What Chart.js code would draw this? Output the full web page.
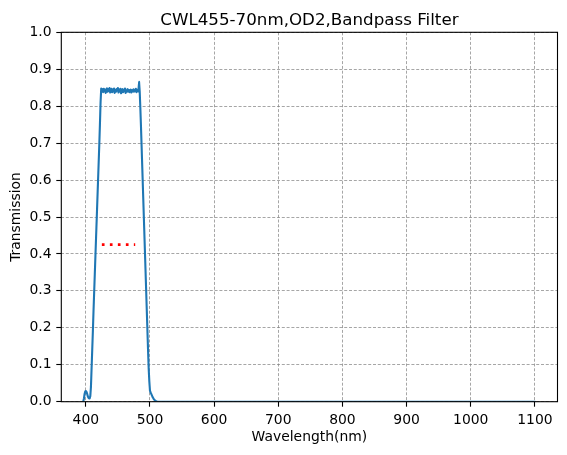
<!DOCTYPE html>
<html>
<head>
<meta charset="utf-8">
<script src="https://cdn.jsdelivr.net/npm/chart.js@4.4.1/dist/chart.umd.min.js"></script>
<style>
  html, body { margin: 0; padding: 0; background: #ffffff; }
  #wrap { width: 567px; height: 455px; }
</style>
</head>
<body>
<div id="wrap"><canvas id="filterChart" width="567" height="455"></canvas></div>
<script>
// measured transmission curve (wavelength in nm)
const wavelengths = [
  396, 397, 398, 399, 400, 401, 402, 403, 404, 405,
  406, 407, 408, 409, 410, 411, 412, 413, 414, 415,
  416, 417, 418, 419, 420, 421, 422, 423, 424, 425,
  426, 427, 428, 429, 430, 431, 432, 433, 434, 435,
  436, 437, 438, 439, 440, 441, 442, 443, 444, 445,
  446, 447, 448, 449, 450, 451, 452, 453, 454, 455,
  456, 457, 458, 459, 460, 461, 462, 463, 464, 465,
  466, 467, 468, 469, 470, 471, 472, 473, 474, 475,
  476, 477, 478, 479, 480, 481, 482, 483, 484, 485,
  486, 487, 488, 489, 490, 491, 492, 493, 494, 495,
  496, 497, 498, 499, 500, 501, 502, 503, 504, 505,
  506, 507, 508, 509, 510, 511, 520, 600, 700, 800,
  900, 1000, 1100
];
const transmission = [
  0.000, 0.008, 0.020, 0.027, 0.029, 0.027, 0.022, 0.015, 0.011, 0.009,
  0.009, 0.015, 0.040, 0.090, 0.140, 0.190, 0.245, 0.295, 0.345, 0.395,
  0.445, 0.495, 0.545, 0.595, 0.645, 0.695, 0.750, 0.810, 0.848, 0.842,
  0.846, 0.838, 0.847, 0.840, 0.845, 0.836, 0.844, 0.848, 0.839, 0.846,
  0.841, 0.849, 0.837, 0.843, 0.847, 0.838, 0.845, 0.840, 0.848, 0.836,
  0.844, 0.839, 0.846, 0.842, 0.849, 0.837, 0.845, 0.840, 0.847, 0.835,
  0.843, 0.846, 0.838, 0.844, 0.841, 0.848, 0.836, 0.843, 0.839, 0.846,
  0.840, 0.844, 0.838, 0.842, 0.845, 0.837, 0.843, 0.840, 0.846, 0.839,
  0.844, 0.841, 0.847, 0.838, 0.842, 0.845, 0.840, 0.866, 0.840, 0.795,
  0.745, 0.690, 0.635, 0.580, 0.525, 0.470, 0.415, 0.360, 0.305, 0.250,
  0.195, 0.140, 0.090, 0.055, 0.030, 0.025, 0.021, 0.017, 0.013, 0.010,
  0.007, 0.005, 0.003, 0.002, 0.001, 0.000, 0.000, 0.000, 0.000, 0.000,
  0.000, 0.000, 0.000
];

// half-maximum marker (red dotted)
const halfMaxWl = [425, 477];
const halfMaxT = [0.425, 0.425];

const xTicks = [400, 500, 600, 700, 800, 900, 1000, 1100];
const yTicks = [0.0, 0.1, 0.2, 0.3, 0.4, 0.5, 0.6, 0.7, 0.8, 0.9, 1.0];

const titleText = 'CWL455-70nm,OD2,Bandpass Filter';
const FONT = 'DejaVu Sans';

const curve = wavelengths.map((w, i) => ({ x: w, y: transmission[i] }));
const halfMax = halfMaxWl.map((w, i) => ({ x: w, y: halfMaxT[i] }));

// frame + title, drawn the way matplotlib does it
const framePlugin = {
  id: 'frame',
  afterDraw(chart) {
    const { ctx, chartArea: a } = chart;
    ctx.save();
    ctx.strokeStyle = '#000000';
    ctx.lineWidth = 1.1;
    ctx.strokeRect(a.left, a.top, a.right - a.left, a.bottom - a.top);
    ctx.fillStyle = '#000000';
    ctx.font = '16.7px "' + FONT + '"';
    ctx.textAlign = 'center';
    ctx.textBaseline = 'alphabetic';
    ctx.fillText(titleText, (a.left + a.right) / 2, 25);
    ctx.restore();
  }
};

const gridDash = [3, 1.8];

new Chart(document.getElementById('filterChart').getContext('2d'), {
  type: 'line',
  data: {
    datasets: [
      {
        data: halfMax,
        borderColor: '#ff0000',
        borderWidth: 2.8,
        borderDash: [2.7, 5.3],
        borderCapStyle: 'butt',
        pointRadius: 0,
        tension: 0
      },
      {
        data: curve,
        borderColor: '#1f77b4',
        borderWidth: 2.1,
        borderJoinStyle: 'round',
        borderCapStyle: 'round',
        pointRadius: 0,
        // tiny tension keeps Chart.js off its pixel-merging fast path
        tension: 0.001
      }
    ]
  },
  options: {
    responsive: false,
    animation: false,
    events: [],
    layout: { padding: { left: 0, right: 9.5, top: 32.3, bottom: 0 } },
    plugins: {
      legend: { display: false },
      tooltip: { enabled: false },
      title: { display: false }
    },
    scales: {
      x: {
        type: 'linear',
        min: 361.8,
        max: 1135.2,
        afterFit(scale) { scale.height = 53.3; },
        afterBuildTicks(scale) { scale.ticks = xTicks.map(v => ({ value: v })); },
        ticks: {
          autoSkip: false,
          maxRotation: 0,
          padding: 4.9,
          color: '#000000',
          font: { family: FONT, size: 13.9 },
          callback: v => String(v)
        },
        grid: {
          color: '#808080',
          lineWidth: 0.7,
          borderDash: gridDash,
          tickLength: 5,
          tickColor: '#000000',
          tickWidth: 1.1,
          tickBorderDash: []
        },
        border: { display: false, dash: gridDash },
        title: {
          display: true,
          text: 'Wavelength(nm)',
          color: '#000000',
          font: { family: FONT, size: 13.9 },
          padding: { top: 0, bottom: 9.7 }
        }
      },
      y: {
        type: 'linear',
        min: 0,
        max: 1,
        afterFit(scale) { scale.width = 61.3; },
        afterBuildTicks(scale) { scale.ticks = yTicks.map(v => ({ value: v })); },
        ticks: {
          autoSkip: false,
          padding: 4.7,
          color: '#000000',
          font: { family: FONT, size: 13.9 },
          callback: v => Number(v).toFixed(1)
        },
        grid: {
          color: '#808080',
          lineWidth: 0.7,
          borderDash: gridDash,
          tickLength: 5,
          tickColor: '#000000',
          tickWidth: 1.1,
          tickBorderDash: []
        },
        border: { display: false, dash: gridDash },
        title: {
          display: true,
          text: 'Transmission',
          color: '#000000',
          font: { family: FONT, size: 13.9 },
          padding: { top: 7.7, bottom: 0 }
        }
      }
    }
  },
  plugins: [framePlugin]
});
</script>
</body>
</html>
